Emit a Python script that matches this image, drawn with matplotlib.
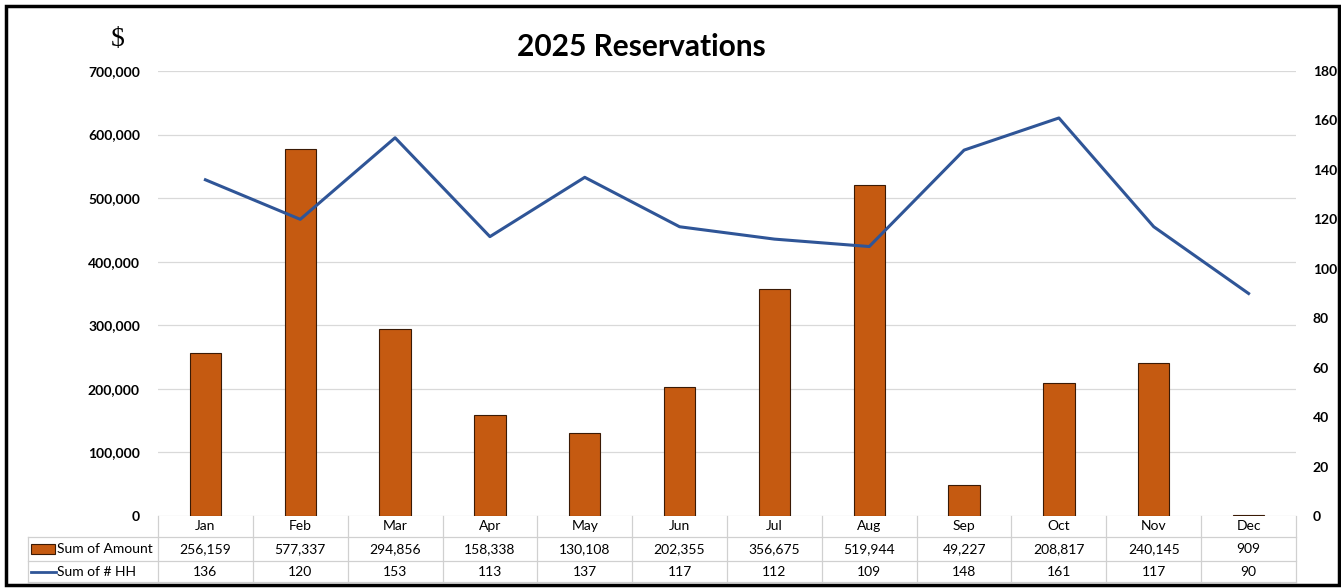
import matplotlib
matplotlib.use("Agg")
import matplotlib.pyplot as plt
from matplotlib.patches import Rectangle
from matplotlib.lines import Line2D
from matplotlib.ticker import FuncFormatter, MultipleLocator
from matplotlib.transforms import blended_transform_factory
import numpy as np

months = ["Jan", "Feb", "Mar", "Apr", "May", "Jun", "Jul", "Aug", "Sep", "Oct", "Nov", "Dec"]
amount = [256159, 577337, 294856, 158338, 130108, 202355, 356675, 519944, 49227, 208817, 240145, 909]
households = [136, 120, 153, 113, 137, 117, 112, 109, 148, 161, 117, 90]
series_names = ["Sum of Amount", "Sum of # HH"]
title = "2025 Reservations"

BAR = "#C55A11"
LINE = "#2F5597"
FONT = ["Lato", "DejaVu Sans"]
plt.rcParams["font.family"] = FONT

W, H = 1341, 588
fig = plt.figure(figsize=(W / 100, H / 100), dpi=100)

def fy(y):
    return 1 - y / H

def fx(x):
    return x / W

x0, x1, ytop, ybot = 158, 1296, 71, 516
ax = fig.add_axes([fx(x0), fy(ybot), fx(x1) - fx(x0), fy(ytop) - fy(ybot)])
x = np.arange(len(months))
ax.bar(x, amount, width=0.33, color=BAR, edgecolor="#3a1a05", linewidth=0.8, zorder=3)
ax.set_xlim(-0.5, len(months) - 0.5)
ax.set_ylim(0, 700000)
ax.yaxis.set_major_locator(MultipleLocator(100000))
ax.yaxis.set_major_formatter(FuncFormatter(lambda v, p: f"{int(v):,}"))
ax.grid(axis="y", color="#d9d9d9", linewidth=0.9, zorder=0)
ax.set_xticks([])
for s in ax.spines.values():
    s.set_visible(False)
ax.tick_params(axis="y", length=0, pad=13, labelsize=10)
for lab in ax.get_yticklabels():
    lab.set_fontweight("bold")

ax2 = ax.twinx()
ax2.plot(x, households, color=LINE, linewidth=2.2, zorder=4)
ax2.set_ylim(0, 180)
ax2.yaxis.set_major_locator(MultipleLocator(20))
for s in ax2.spines.values():
    s.set_visible(False)
ax2.tick_params(axis="y", length=0, pad=12, labelsize=10)
for lab in ax2.get_yticklabels():
    lab.set_fontweight("bold")

# title and $ label
fig.text(fx(641), fy(47), title, ha="center", va="center", fontsize=21.5, fontweight="bold")
fig.text(fx(118), fy(40), "$", ha="center", va="center", fontsize=20, family="Liberation Serif")

# data table
tr = blended_transform_factory(ax.transData, fig.transFigure)
grid_c = "#d0d0d0"
r0, r1, r2, r3 = 516, 537, 561, 582
bounds = np.arange(len(months) + 1) - 0.5
for b in bounds:
    ax.add_line(Line2D([b, b], [fy(r0), fy(r3)], transform=tr, color=grid_c, lw=0.9, clip_on=False))
for r in (r1, r2, r3):
    ax.add_line(Line2D([fx(28), fx(x1)], [fy(r), fy(r)], transform=fig.transFigure, color=grid_c, lw=0.9, clip_on=False))
ax.add_line(Line2D([fx(28), fx(28)], [fy(r1), fy(r3)], transform=fig.transFigure, color=grid_c, lw=0.9, clip_on=False))
for i, m in enumerate(months):
    fig.text(i, fy((r0 + r1) / 2), m, transform=tr, ha="center", va="center", fontsize=10)
for i, (a, h) in enumerate(zip(amount, households)):
    fig.text(i, fy((r1 + r2) / 2), f"{a:,}", transform=tr, ha="center", va="center", fontsize=10)
    fig.text(i, fy((r2 + r3) / 2), f"{h}", transform=tr, ha="center", va="center", fontsize=10)

# legend keys
fig.patches.append(Rectangle((fx(31), fy(554)), fx(24), fy(544) - fy(554), transform=fig.transFigure,
                             facecolor=BAR, edgecolor="#3a1a05", lw=0.8))
fig.text(fx(57), fy((r1 + r2) / 2), series_names[0], ha="left", va="center", fontsize=10)
fig.lines.append(Line2D([fx(31), fx(56)], [fy(571.5), fy(571.5)], transform=fig.transFigure, color=LINE, lw=2))
fig.text(fx(57), fy((r2 + r3) / 2), series_names[1], ha="left", va="center", fontsize=10)

# outer frame
fig.patches.append(Rectangle((fx(6), fy(585)), fx(1333), fy(6) - fy(585), transform=fig.transFigure,
                             facecolor="none", edgecolor="black", lw=2.5))

fig.savefig("out.png", dpi=100, facecolor="white")
